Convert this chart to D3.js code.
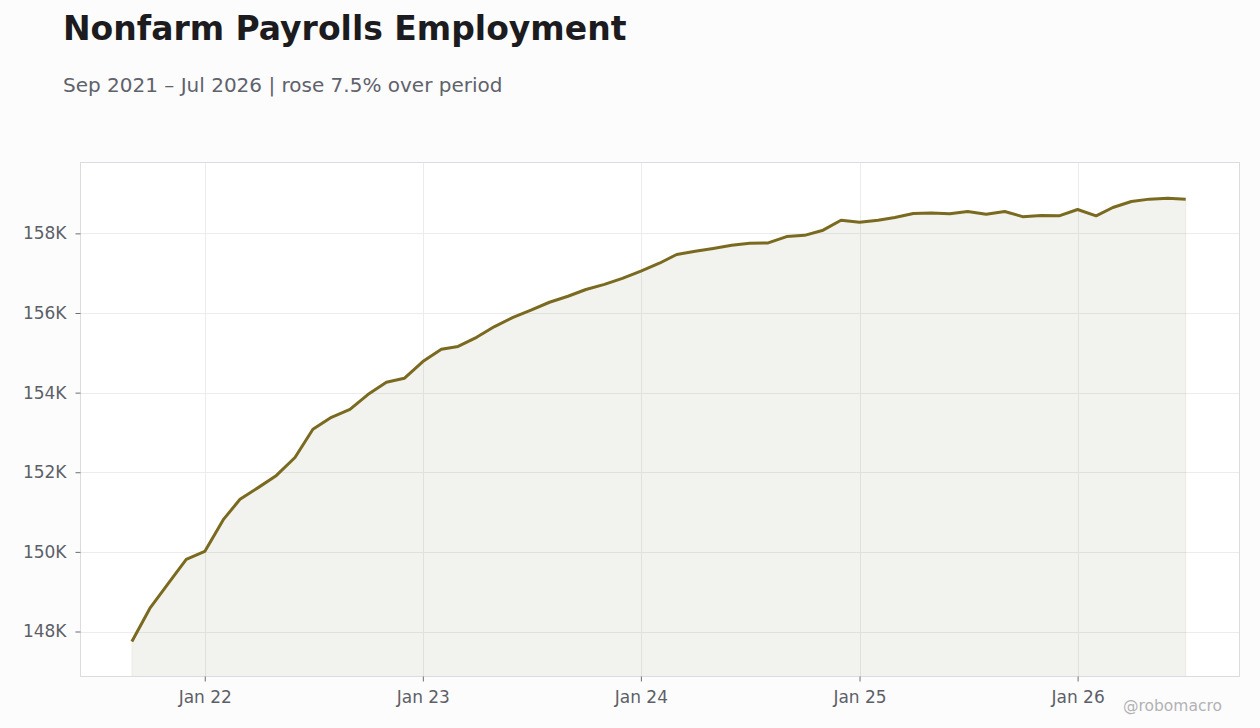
<!DOCTYPE html>
<html>
<head>
<meta charset="utf-8">
<script src="https://cdn.jsdelivr.net/npm/d3@7"></script>
<style>
  body { margin: 0; background: #fcfcfc; }
  svg { display: block; font-family: "DejaVu Sans", sans-serif; }
</style>
</head>
<body>
<svg></svg>
<script>
// Nonfarm payrolls, thousands of jobs, monthly

var months = [
  "2021-09","2021-10","2021-11","2021-12",
  "2022-01","2022-02","2022-03","2022-04","2022-05","2022-06","2022-07","2022-08","2022-09","2022-10","2022-11","2022-12",
  "2023-01","2023-02","2023-03","2023-04","2023-05","2023-06","2023-07","2023-08","2023-09","2023-10","2023-11","2023-12",
  "2024-01","2024-02","2024-03","2024-04","2024-05","2024-06","2024-07","2024-08","2024-09","2024-10","2024-11","2024-12",
  "2025-01","2025-02","2025-03","2025-04","2025-05","2025-06","2025-07","2025-08","2025-09","2025-10","2025-11","2025-12",
  "2026-01","2026-02","2026-03","2026-04","2026-05","2026-06","2026-07"
];

var payrolls = [
  147750,148580,149210,149810,
  150010,150810,151320,151620,151920,152370,153080,153380,153580,153950,154260,154360,
  154780,155090,155160,155390,155660,155890,156070,156270,156420,156590,156720,156870,
  157050,157250,157470,157550,157620,157700,157750,157760,157920,157950,158080,158330,
  158280,158330,158400,158500,158510,158490,158550,158480,158550,158420,158450,158440,
  158600,158440,158650,158800,158860,158880,158860
];

var xTicks = ["2022-01","2023-01","2024-01","2025-01","2026-01"];
var yTicks = [148000,150000,152000,154000,156000,158000];

var title = "Nonfarm Payrolls Employment";
var subtitle = "Sep 2021 \u2013 Jul 2026 | rose 7.5% over period";
var credit = "@robomacro";

var svgWidth = 1260, svgHeight = 728;
var plotLeft = 80.5, plotRight = 1239.5, plotTop = 162.5, plotBottom = 676.5;

var parse = d3.timeParse("%Y-%m");
var data = months.map(function(m, i) {
  return { date: parse(m), value: payrolls[i] };
});

var svg = d3.select("svg")
    .attr("width", svgWidth)
    .attr("height", svgHeight);

// pad the time domain a little each side, like the original
var day = 24 * 3600 * 1000;
var xScale = d3.scaleTime()
    .domain([new Date(data[0].date.getTime() - 86 * day), new Date(data[data.length - 1].date.getTime() + 90 * day)])
    .range([plotLeft, plotRight]);

var yScale = d3.scaleLinear()
    .domain([146870, 159780])
    .range([plotBottom, plotTop]);

svg.append("rect")
    .attr("x", plotLeft).attr("y", plotTop)
    .attr("width", plotRight - plotLeft).attr("height", plotBottom - plotTop)
    .attr("fill", "#fff");

// grid
svg.append("g")
    .selectAll("line")
    .data(yTicks)
    .enter()
    .append("line")
    .attr("x1", plotLeft).attr("x2", plotRight)
    .attr("y1", function(d) { return Math.round(yScale(d)) + 0.5; })
    .attr("y2", function(d) { return Math.round(yScale(d)) + 0.5; })
    .attr("stroke", "#ececec");

svg.append("g")
    .selectAll("line")
    .data(xTicks.map(parse))
    .enter()
    .append("line")
    .attr("y1", plotTop).attr("y2", plotBottom)
    .attr("x1", function(d) { return Math.round(xScale(d)) + 0.5; })
    .attr("x2", function(d) { return Math.round(xScale(d)) + 0.5; })
    .attr("stroke", "#ececec");

var area = d3.area()
    .x(function(d) { return xScale(d.date); })
    .y0(plotBottom)
    .y1(function(d) { return yScale(d.value); });

var line = d3.line()
    .x(function(d) { return xScale(d.date); })
    .y(function(d) { return yScale(d.value); });

svg.append("path")
    .datum(data)
    .attr("d", area)
    .attr("fill", "rgba(110,100,60,0.085)")
    .attr("stroke", "rgba(122,106,32,0.07)")
    .attr("stroke-width", 1);

svg.append("path")
    .datum(data)
    .attr("d", line)
    .attr("fill", "none")
    .attr("stroke", "#7a6a20")
    .attr("stroke-width", 3)
    .attr("stroke-linejoin", "round");

// frame
svg.append("rect")
    .attr("x", plotLeft).attr("y", plotTop)
    .attr("width", plotRight - plotLeft).attr("height", plotBottom - plotTop)
    .attr("fill", "none")
    .attr("stroke", "#dcdce0");

// axes
var xAxis = d3.axisBottom(xScale)
    .tickValues(xTicks.map(parse))
    .tickFormat(d3.timeFormat("%b %y"))
    .tickSize(5)
    .tickPadding(9);

var yAxis = d3.axisLeft(yScale)
    .tickValues(yTicks)
    .tickFormat(function(d) { return d / 1000 + "K"; })
    .tickSize(5)
    .tickPadding(9);

var gx = svg.append("g")
    .attr("transform", "translate(0," + plotBottom + ")")
    .call(xAxis);

var gy = svg.append("g")
    .attr("transform", "translate(" + plotLeft + ",0)")
    .call(yAxis);

[gx, gy].forEach(function(g) {
  g.select(".domain").remove();
  g.selectAll(".tick line").attr("stroke", "#6a6d75");
  g.selectAll(".tick text")
    .attr("fill", "#5c5f68")
    .style("font-size", "17px")
    .style("font-family", "'DejaVu Sans', sans-serif");
});

// titles
svg.append("text")
    .attr("x", 63).attr("y", 40)
    .attr("fill", "#1b1b20")
    .style("font-size", "33px")
    .style("font-weight", "bold")
    .text(title);

svg.append("text")
    .attr("x", 63).attr("y", 92)
    .attr("fill", "#60626b")
    .style("font-size", "20px")
    .text(subtitle);

svg.append("text")
    .attr("x", 1222).attr("y", 711)
    .attr("text-anchor", "end")
    .attr("fill", "#b2b2b6")
    .style("font-size", "15.5px")
    .text(credit);
</script>
</body>
</html>
